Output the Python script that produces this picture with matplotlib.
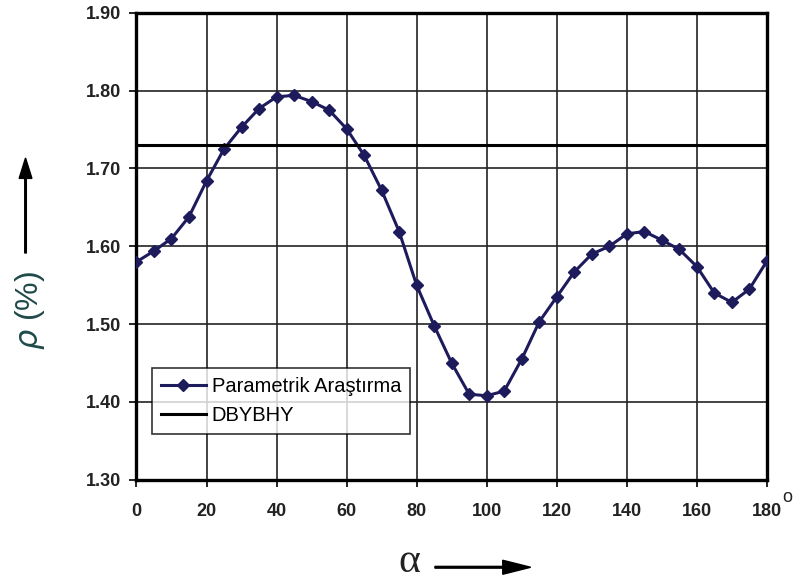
import matplotlib.pyplot as plt
from matplotlib.patches import FancyArrow
import numpy as np

plt.rcParams["font.family"] = ["Liberation Sans", "DejaVu Sans"]

# alpha (degrees) and rho (%) values
alpha = np.arange(0, 181, 5)
rho = [1.580, 1.594, 1.610, 1.638, 1.684, 1.725, 1.753, 1.777, 1.792, 1.794,
       1.786, 1.775, 1.751, 1.717, 1.672, 1.619, 1.550, 1.498, 1.450, 1.410,
       1.408, 1.414, 1.455, 1.503, 1.535, 1.567, 1.590, 1.600, 1.616, 1.619,
       1.608, 1.596, 1.574, 1.540, 1.528, 1.545, 1.581]
dbybhy = 1.73

x_ticks = list(range(0, 181, 20))
y_ticks = [1.30, 1.40, 1.50, 1.60, 1.70, 1.80, 1.90]

fig = plt.figure(figsize=(7.98, 5.83), dpi=100)
ax = fig.add_axes([0.171, 0.177, 0.790, 0.801])

ax.plot(alpha, rho, color="#1e1b5c", lw=2.2, marker="D", ms=6.5,
        label="Parametrik Araştırma", zorder=3)
ax.axhline(dbybhy, color="black", lw=2.2, label="DBYBHY", zorder=3)

ax.set_xlim(0, 180)
ax.set_ylim(1.30, 1.90)
ax.set_xticks(x_ticks)
ax.set_yticks(y_ticks)
ax.set_yticklabels([f"{v:.2f}" for v in y_ticks])
ax.grid(True, color="#222222", lw=1.2)
for s in ax.spines.values():
    s.set_linewidth(2.4)
    s.set_color("black")
ax.tick_params(direction="out", length=5, width=1.2, labelsize=13)
ax.tick_params(axis="x", pad=12)
ax.tick_params(axis="y", pad=6)
for lab in ax.get_xticklabels() + ax.get_yticklabels():
    lab.set_fontweight("bold")
    lab.set_color("#222222")

# degree mark after 180
fig.text(0.986, 0.146, "o", fontsize=13, color="#222222",
         ha="center", va="center")

leg = ax.legend(loc="lower left", bbox_to_anchor=(0.025, 0.098), fontsize=14.5,
                frameon=True, fancybox=False, edgecolor="black",
                handlelength=2.2, borderpad=0.45, labelspacing=0.5,
                handletextpad=0.3, borderaxespad=0)
leg.get_frame().set_linewidth(1.2)

# axis labels with arrows
fig.text(0.038, 0.468, r"$\rho$ (%)", rotation=90, fontsize=23,
         color="#1f4a4a", ha="center", va="center")
fig.patches.append(FancyArrow(
    0.032, 0.566, 0, 0.163, width=0.002, head_width=0.016, head_length=0.035,
    transform=fig.transFigure, color="black", length_includes_head=True))
fig.text(0.513, 0.036, "α", fontsize=30, family="Liberation Serif",
         color="#222222", ha="center", va="center")
fig.patches.append(FancyArrow(
    0.545, 0.027, 0.12, 0, width=0.003, head_width=0.024, head_length=0.035,
    transform=fig.transFigure, color="black", length_includes_head=True))

fig.savefig("out.png", dpi=100)
